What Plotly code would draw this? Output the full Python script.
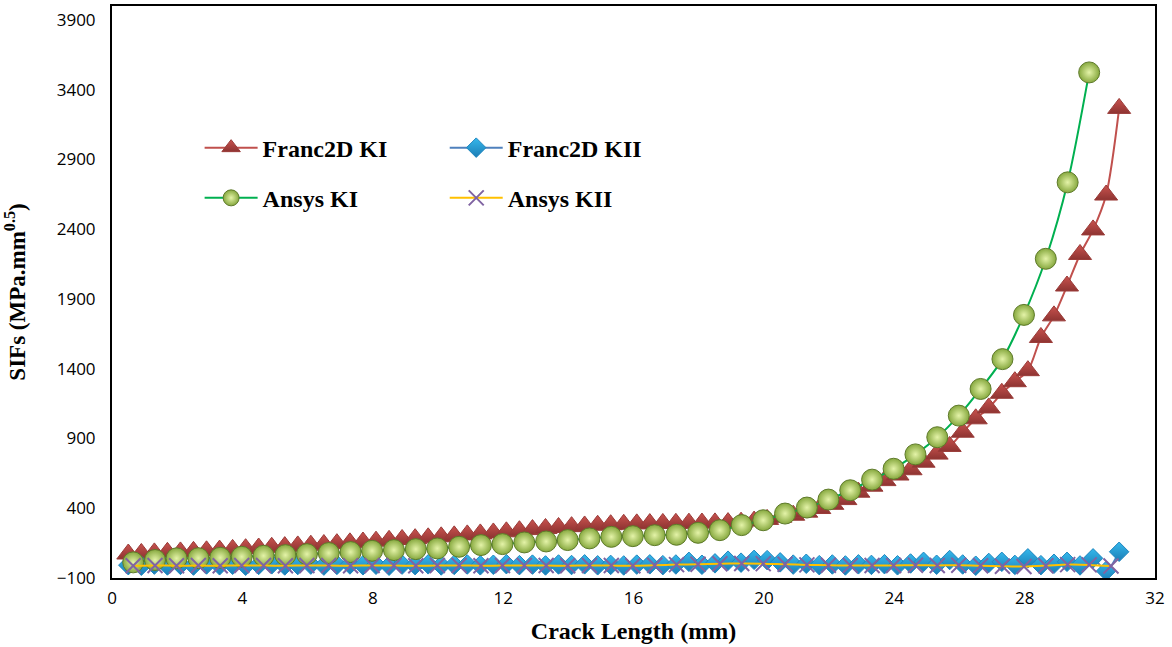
import plotly.graph_objects as go

franc_x = [0.5, 0.9, 1.3, 1.7, 2.1, 2.5, 2.9, 3.3, 3.7, 4.1, 4.5, 4.9, 5.3, 5.7, 6.1, 6.5, 6.9, 7.3, 7.7, 8.1,
           8.5, 8.9, 9.3, 9.7, 10.1, 10.5, 10.9, 11.3, 11.7, 12.1, 12.5, 12.9, 13.3, 13.7, 14.1, 14.5, 14.9, 15.3,
           15.7, 16.1, 16.5, 16.9, 17.3, 17.7, 18.1, 18.5, 18.9, 19.3, 19.7, 20.1, 20.5, 20.9, 21.3, 21.7, 22.1,
           22.5, 22.9, 23.3, 23.7, 24.1, 24.5, 24.9, 25.3, 25.7, 26.1, 26.5, 26.9, 27.3, 27.7, 28.1, 28.5, 28.9,
           29.3, 29.7, 30.1, 30.5, 30.9]
franc_ki = [72, 76, 80, 84, 87, 91, 95, 100, 105, 110, 115, 120, 125, 130, 135, 140, 146, 152, 158, 164,
            170, 176, 182, 188, 195, 202, 209, 216, 223, 231, 239, 247, 255, 262, 268, 273, 278, 282,
            285, 288, 290, 291, 292, 293, 294, 295, 297, 300, 308, 320, 335, 350, 372, 398, 428,
            462, 515, 558, 598, 638, 676, 730, 788, 843, 945, 1041, 1119, 1224, 1307, 1386, 1624, 1779,
            1993, 2219, 2395, 2645, 3266]
franc_kii = [-8, -12, -4, -10, -6, -11, -3, -9, -5, -12, -6, -2, -10, -7, -4, -11, -6, -3, -9, -5,
             -12, -4, -8, -2, -10, -6, -3, -9, -5, -1, -8, -4, -10, -3, -7, -2, -9, -6,
             -10, -4, -2, -8, -3, 16, -5, 5, 24, 10, 30, 28, 12, -4, 2, -8, -3,
             -10, -2, -6, -1, -9, 4, 16, -5, 29, -3, -12, 8, 16, -6, 41, -8, 2,
             16, -10, 41, -50, 88]

ansys_x = [0.65, 1.32, 1.98, 2.65, 3.32, 3.98, 4.65, 5.32, 5.98, 6.65, 7.32, 7.98, 8.65, 9.32, 9.98,
           10.65, 11.32, 11.98, 12.65, 13.32, 13.98, 14.65, 15.32, 15.98, 16.65, 17.32, 17.98, 18.65,
           19.32, 19.98, 20.65, 21.32, 21.98, 22.65, 23.32, 23.98, 24.65, 25.32, 25.98, 26.65, 27.32,
           27.98, 28.65, 29.32, 29.98, 30.65]
ansys_ki = [12, 29, 41, 42, 45, 52, 59, 64, 71, 79, 86, 95, 100, 107, 112,
            124, 136, 143, 155, 162, 172, 184, 195, 200, 207, 210, 224, 243,
            279, 314, 362, 405, 462, 529, 605, 683, 786, 909, 1064, 1255, 1469,
            1786, 2188, 2736, 3524]
ansys_kii = [-12, -10, -12, -11, -12, -10, -11, -12, -10, -11, -12, -10, -11, -12, -11,
             -10, -12, -11, -10, -11, -12, -10, -11, -12, -9, -4, -1, 2,
             4, 3, -2, -6, -9, -10, -11, -10, -9, -10, -9, -12, -16,
             -18, -12, -4, -6, -14]

y_ticks = [-100, 400, 900, 1400, 1900, 2400, 2900, 3400, 3900]
x_ticks = [0, 4, 8, 12, 16, 20, 24, 28, 32]

serif = "Liberation Serif"
fig = go.Figure()

fig.add_trace(go.Scatter(
    x=franc_x, y=franc_ki, name="<b>Franc2D KI</b>", mode="lines+markers",
    line=dict(color="#C0504D", width=2, shape="spline", smoothing=0.8),
    marker=dict(symbol="triangle-up", size=20, color="#C9524E",
                gradient=dict(type="vertical", color="#8E3432"),
                line=dict(color="#9A3B38", width=1)),
    legend="legend", legendgroup="a"))
fig.add_trace(go.Scatter(
    x=franc_x, y=franc_kii, name="<b>Franc2D KII</b>", mode="lines+markers",
    line=dict(color="#4F81BD", width=2, shape="spline", smoothing=0.8),
    marker=dict(symbol="diamond", size=15, color="#35B8EC",
                gradient=dict(type="vertical", color="#1C7DB5"),
                line=dict(color="#1F86BF", width=1)),
    legend="legend2", legendgroup="b"))
fig.add_trace(go.Scatter(
    x=ansys_x[:len(ansys_ki)], y=ansys_ki, name="<b>Ansys KI</b>", mode="lines+markers",
    line=dict(color="#00B050", width=2, shape="spline", smoothing=0.8),
    marker=dict(symbol="circle", size=21, color="#86A83E",
                gradient=dict(type="radial", color="#E4F3A8"),
                line=dict(color="#5E7A2A", width=1)),
    legend="legend", legendgroup="c"))
fig.add_trace(go.Scatter(
    x=ansys_x, y=ansys_kii, name="<b>Ansys KII</b>", mode="lines+markers",
    line=dict(color="#FFC000", width=2, shape="spline", smoothing=0.8),
    marker=dict(symbol="x-thin", size=15, color="#8064A2",
                line=dict(color="#8064A2", width=2)),
    legend="legend2", legendgroup="d"))

legend_common = dict(font=dict(family=serif, size=24, color="black"),
                     bgcolor="rgba(0,0,0,0)", itemwidth=53, tracegroupgap=16,
                     xanchor="left", yanchor="top", orientation="v")

fig.update_layout(
    width=1172, height=647,
    margin=dict(l=112, r=17, t=4, b=69),
    paper_bgcolor="white", plot_bgcolor="white",
    showlegend=True,
    legend=dict(x=0.084, y=0.791, **legend_common),
    legend2=dict(x=0.319, y=0.791, **legend_common),
    xaxis=dict(range=[0, 32], tickvals=x_ticks, ticks="", showgrid=False, zeroline=False,
               showline=True, linecolor="black", linewidth=2, mirror=True,
               tickfont=dict(family="Open Sans", size=17, color="black"),
               ticklabelstandoff=4,
               title=dict(text="<b>Crack Length (mm)</b>", font=dict(family=serif, size=24, color="black"),
                          standoff=14)),
    yaxis=dict(range=[-100, 4000], tickvals=y_ticks, ticks="", showgrid=False, zeroline=False,
               showline=True, linecolor="black", linewidth=2, mirror=True,
               tickfont=dict(family="Open Sans", size=17, color="black"),
               ticklabelstandoff=11,
               title=dict(text="<b>SIFs (MPa.mm<sup>0.5</sup>)</b>", font=dict(family=serif, size=23, color="black"),
                          standoff=25)),
)

fig.write_html("out.html")
